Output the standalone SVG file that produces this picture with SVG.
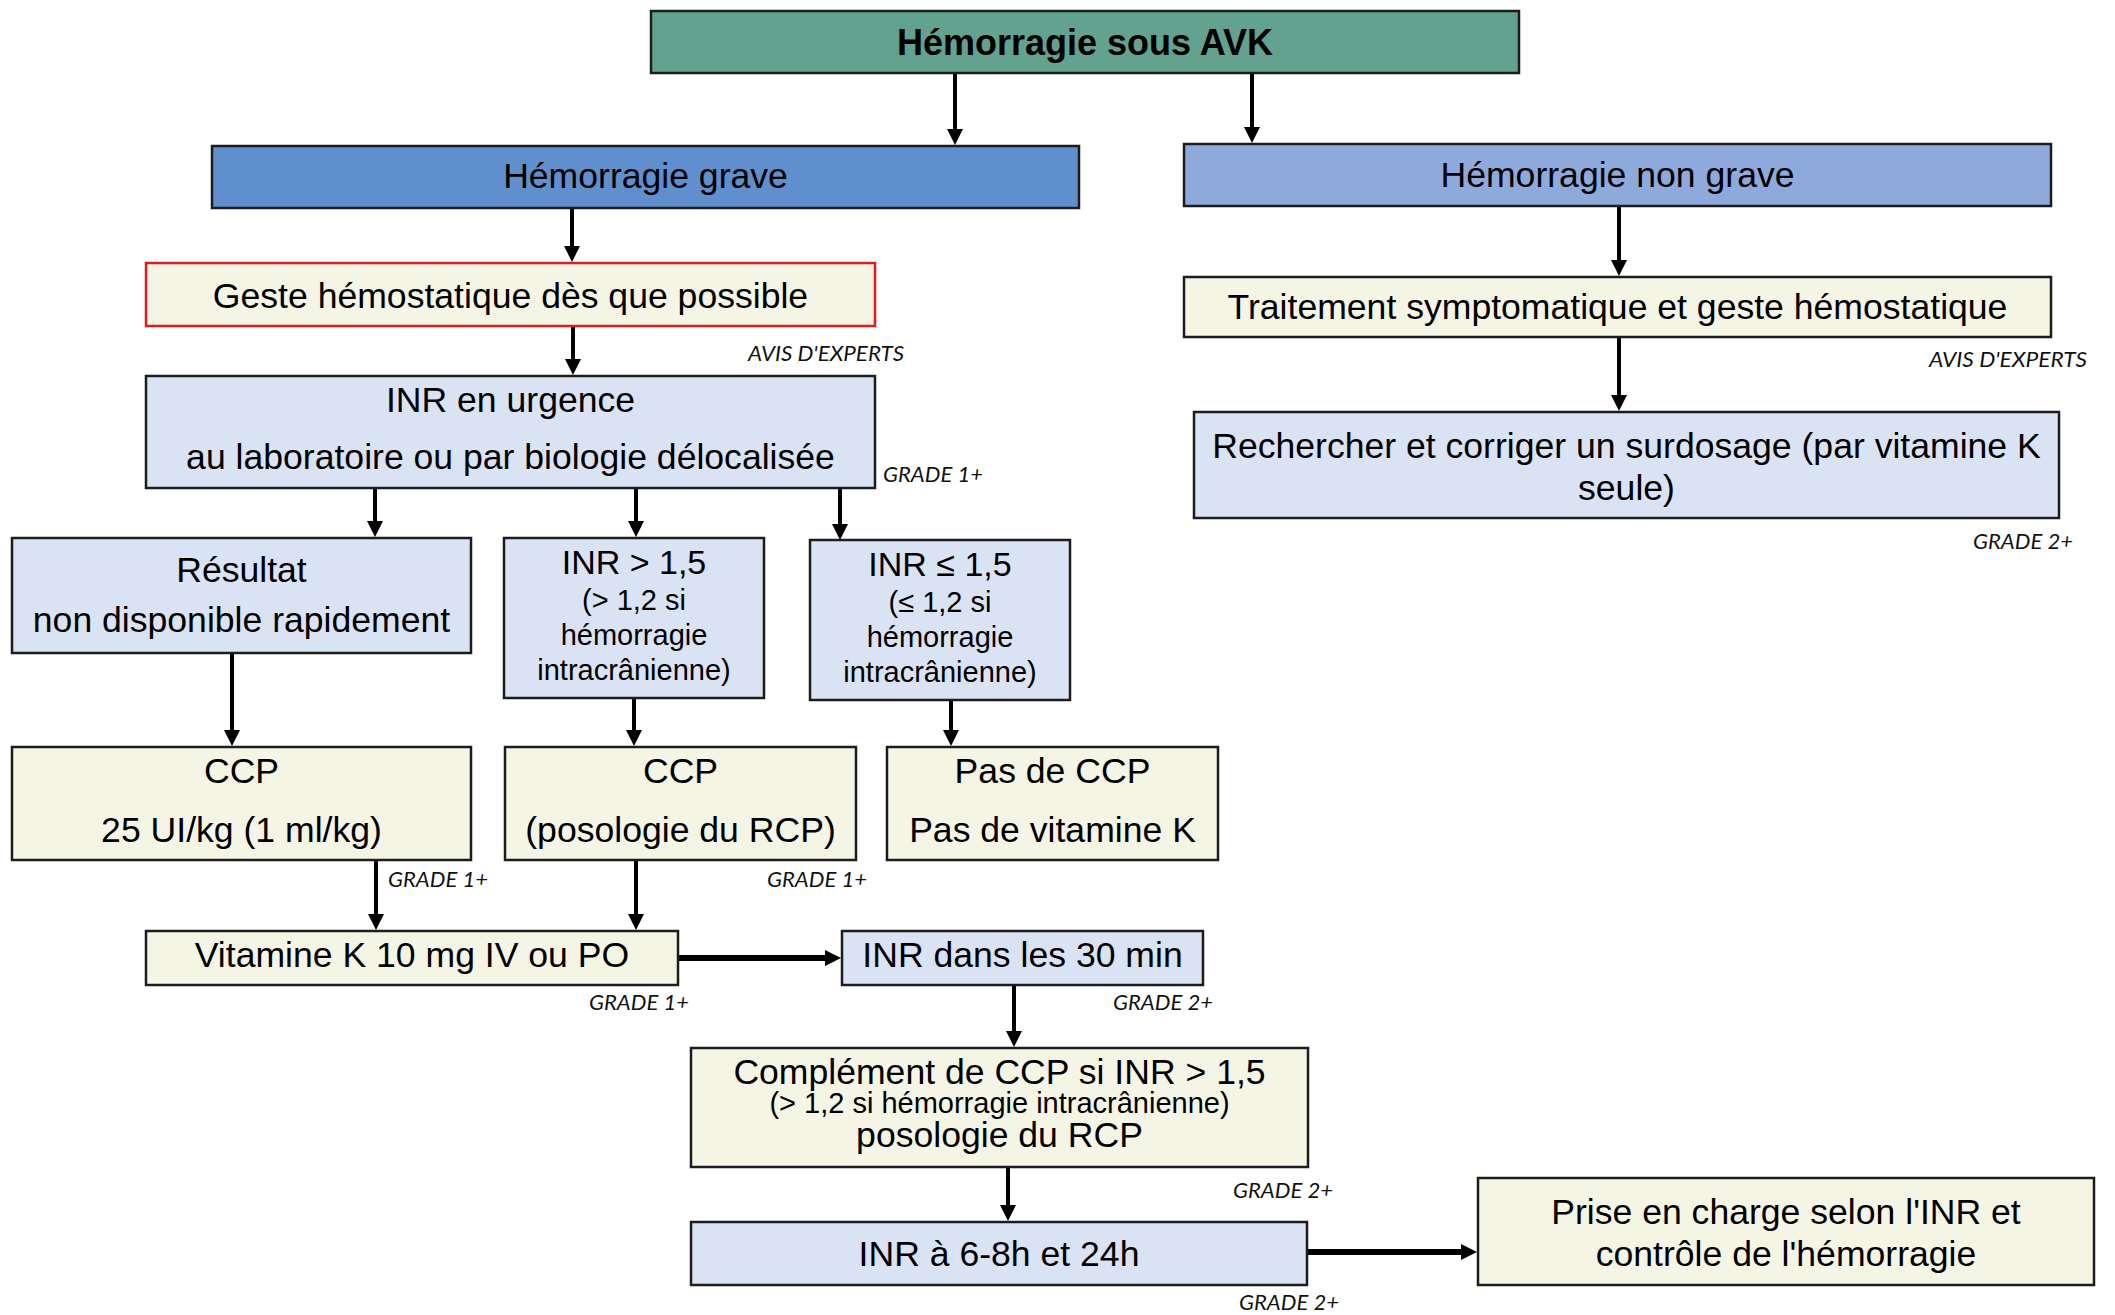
<svg xmlns="http://www.w3.org/2000/svg" width="2115" height="1315" viewBox="0 0 2115 1315">
  <style>
    .box { stroke: #1c1c1c; stroke-width: 2.5; }
    .teal { fill: #63a28f; }
    .blue { fill: #5f8fcc; }
    .blue2 { fill: #8eaadc; }
    .light { fill: #dae3f3; }
    .beige { fill: #f5f5e5; }
    .red { stroke: #dc1e1e; stroke-width: 2.5; }
    .t { font-family: "Liberation Sans", Arial, sans-serif; font-size: 35.6px; fill: #000; text-anchor: middle; }
    .tb { font-weight: bold; font-size: 36px; }
    .t34 { font-size: 34px; }
    .t29 { font-size: 29px; }
    .g { font-family: Lato, "Open Sans", sans-serif; font-style: italic; font-size: 22px; fill: #111; }
    .c { stroke: #000; stroke-width: 4; fill: none; marker-end: url(#ah); }
    .ch { stroke: #000; stroke-width: 6; fill: none; marker-end: url(#ah); }
  </style>
  <defs>
    <marker id="ah" markerUnits="userSpaceOnUse" markerWidth="17" markerHeight="17" refX="4" refY="8" orient="auto">
      <path d="M0,0 L16,8 L0,16 z" fill="#000"/>
    </marker>
  </defs>
  <rect width="2115" height="1315" fill="#fff"/>

  <g id="connectors">
    <line class="c" x1="955" y1="73" x2="955" y2="133"/>
    <line class="c" x1="1252" y1="73" x2="1252" y2="131"/>
    <line class="c" x1="572" y1="208" x2="572" y2="250"/>
    <line class="c" x1="573" y1="326" x2="573" y2="363"/>
    <line class="c" x1="375" y1="489" x2="375" y2="525"/>
    <line class="c" x1="636" y1="489" x2="636" y2="525"/>
    <line class="c" x1="840" y1="489" x2="840" y2="528"/>
    <line class="c" x1="232" y1="653" x2="232" y2="734"/>
    <line class="c" x1="634" y1="698" x2="634" y2="734"/>
    <line class="c" x1="951" y1="700" x2="951" y2="734"/>
    <line class="c" x1="376" y1="860" x2="376" y2="918"/>
    <line class="c" x1="636" y1="860" x2="636" y2="918"/>
    <line class="ch" x1="678" y1="958" x2="829" y2="958"/>
    <line class="c" x1="1014" y1="985" x2="1014" y2="1035"/>
    <line class="c" x1="1008" y1="1167" x2="1008" y2="1209"/>
    <line class="ch" x1="1307" y1="1252" x2="1465" y2="1252"/>
    <line class="c" x1="1619" y1="206" x2="1619" y2="264"/>
    <line class="c" x1="1619" y1="337" x2="1619" y2="399"/>
  </g>

  <g id="n-top">
    <rect class="box teal" x="651" y="11" width="868" height="62"/>
    <text class="t tb" x="1085" y="55">Hémorragie sous AVK</text>
  </g>
  <g id="n-grave">
    <rect class="box blue" x="212" y="146" width="867" height="62"/>
    <text class="t" x="645.5" y="188">Hémorragie grave</text>
  </g>
  <g id="n-nongrave">
    <rect class="box blue2" x="1184" y="144" width="867" height="62"/>
    <text class="t" x="1617.5" y="187">Hémorragie non grave</text>
  </g>
  <g id="n-geste">
    <rect class="beige red" x="146" y="263" width="729" height="63"/>
    <text class="t" x="510.5" y="308">Geste hémostatique dès que possible</text>
  </g>
  <g id="l-avis1">
    <text class="g" x="748" y="361" textLength="156" lengthAdjust="spacingAndGlyphs">AVIS D'EXPERTS</text>
  </g>
  <g id="n-inr">
    <rect class="box light" x="146" y="376" width="729" height="112"/>
    <text class="t" x="510.5" y="412">INR en urgence</text>
    <text class="t" x="510.5" y="469">au laboratoire ou par biologie délocalisée</text>
  </g>
  <g id="l-g1">
    <text class="g" x="883" y="482" textLength="100" lengthAdjust="spacingAndGlyphs">GRADE 1+</text>
  </g>
  <g id="n-resultat">
    <rect class="box light" x="12" y="538" width="459" height="115"/>
    <text class="t" x="241.5" y="582">Résultat</text>
    <text class="t" x="241.5" y="632">non disponible rapidement</text>
  </g>
  <g id="n-inrsup">
    <rect class="box light" x="504" y="538" width="260" height="160"/>
    <text class="t t34" x="634" y="574">INR &gt; 1,5</text>
    <text class="t t29" x="634" y="610">(&gt; 1,2 si</text>
    <text class="t t29" x="634" y="645">hémorragie</text>
    <text class="t t29" x="634" y="680">intracrânienne)</text>
  </g>
  <g id="n-inrinf">
    <rect class="box light" x="810" y="540" width="260" height="160"/>
    <text class="t t34" x="940" y="576">INR ≤ 1,5</text>
    <text class="t t29" x="940" y="612">(≤ 1,2 si</text>
    <text class="t t29" x="940" y="647">hémorragie</text>
    <text class="t t29" x="940" y="682">intracrânienne)</text>
  </g>
  <g id="n-ccp1">
    <rect class="box beige" x="12" y="747" width="459" height="113"/>
    <text class="t" x="241.5" y="783">CCP</text>
    <text class="t" x="241.5" y="842">25 UI/kg (1 ml/kg)</text>
  </g>
  <g id="n-ccp2">
    <rect class="box beige" x="505" y="747" width="351" height="113"/>
    <text class="t" x="680.5" y="783">CCP</text>
    <text class="t" x="680.5" y="842">(posologie du RCP)</text>
  </g>
  <g id="n-pasccp">
    <rect class="box beige" x="887" y="747" width="331" height="113"/>
    <text class="t" x="1052.5" y="783">Pas de CCP</text>
    <text class="t" x="1052.5" y="842">Pas de vitamine K</text>
  </g>
  <g id="l-g2">
    <text class="g" x="388" y="887" textLength="100" lengthAdjust="spacingAndGlyphs">GRADE 1+</text>
  </g>
  <g id="l-g3">
    <text class="g" x="767" y="887" textLength="100" lengthAdjust="spacingAndGlyphs">GRADE 1+</text>
  </g>
  <g id="n-vitk">
    <rect class="box beige" x="146" y="931" width="532" height="54"/>
    <text class="t" x="412" y="967">Vitamine K 10 mg IV ou PO</text>
  </g>
  <g id="n-inr30">
    <rect class="box light" x="842" y="931" width="361" height="54"/>
    <text class="t" x="1022.5" y="967">INR dans les 30 min</text>
  </g>
  <g id="l-g4">
    <text class="g" x="589" y="1010" textLength="100" lengthAdjust="spacingAndGlyphs">GRADE 1+</text>
  </g>
  <g id="l-g5">
    <text class="g" x="1113" y="1010" textLength="100" lengthAdjust="spacingAndGlyphs">GRADE 2+</text>
  </g>
  <g id="n-complement">
    <rect class="box beige" x="691" y="1048" width="617" height="119"/>
    <text class="t" x="999.5" y="1084">Complément de CCP si INR &gt; 1,5</text>
    <text class="t t29" x="999.5" y="1113">(&gt; 1,2 si hémorragie intracrânienne)</text>
    <text class="t" x="999.5" y="1147">posologie du RCP</text>
  </g>
  <g id="l-g6">
    <text class="g" x="1233" y="1198" textLength="100" lengthAdjust="spacingAndGlyphs">GRADE 2+</text>
  </g>
  <g id="n-inr68">
    <rect class="box light" x="691" y="1222" width="616" height="63"/>
    <text class="t" x="999" y="1266">INR à 6-8h et 24h</text>
  </g>
  <g id="l-g7">
    <text class="g" x="1239" y="1310" textLength="100" lengthAdjust="spacingAndGlyphs">GRADE 2+</text>
  </g>
  <g id="n-prise">
    <rect class="box beige" x="1478" y="1178" width="616" height="107"/>
    <text class="t" x="1786" y="1224">Prise en charge selon l'INR et</text>
    <text class="t" x="1786" y="1266">contrôle de l'hémorragie</text>
  </g>
  <g id="n-traitement">
    <rect class="box beige" x="1184" y="277" width="867" height="60"/>
    <text class="t" x="1617.5" y="319">Traitement symptomatique et geste hémostatique</text>
  </g>
  <g id="l-avis2">
    <text class="g" x="1929" y="367" textLength="158" lengthAdjust="spacingAndGlyphs">AVIS D'EXPERTS</text>
  </g>
  <g id="n-rechercher">
    <rect class="box light" x="1194" y="412" width="865" height="106"/>
    <text class="t" x="1626.5" y="458">Rechercher et corriger un surdosage (par vitamine K</text>
    <text class="t" x="1626.5" y="500">seule)</text>
  </g>
  <g id="l-g8">
    <text class="g" x="1973" y="549" textLength="100" lengthAdjust="spacingAndGlyphs">GRADE 2+</text>
  </g>
</svg>
